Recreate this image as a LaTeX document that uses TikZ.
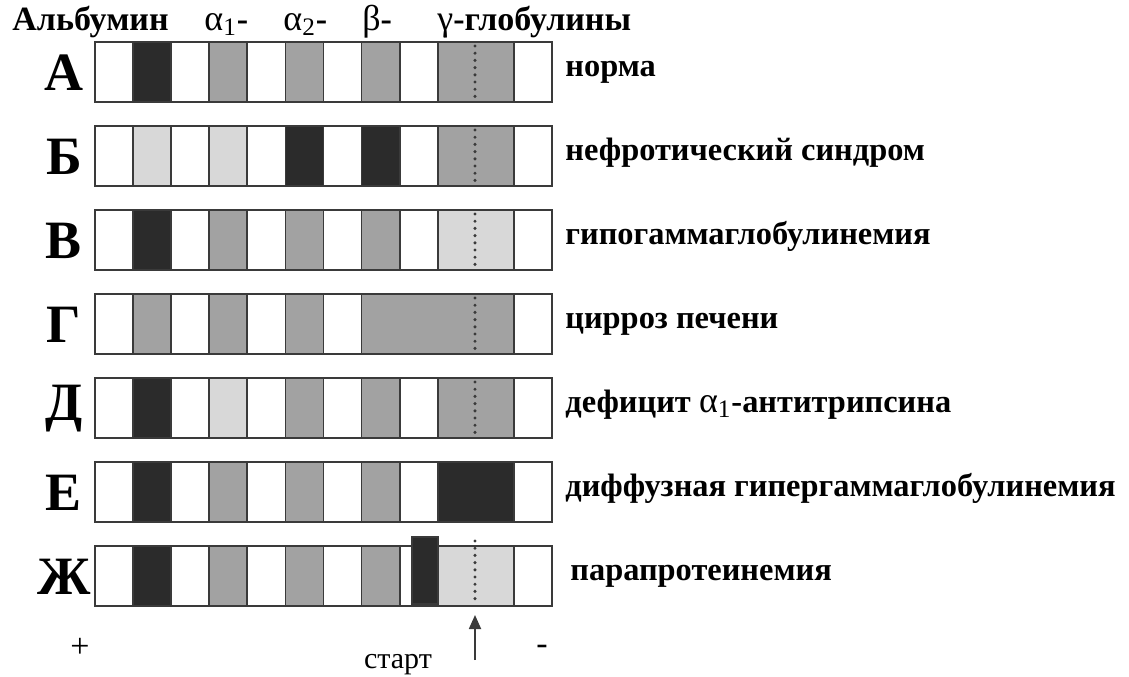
\documentclass[tikz,border=0pt]{standalone}
\usepackage{fontspec}
\setmainfont{Liberation Serif}
\usepackage{tikz}
\usetikzlibrary{arrows.meta}
\definecolor{dk}{HTML}{2B2B2B}
\definecolor{md}{HTML}{A2A2A2}
\definecolor{lt}{HTML}{D8D8D8}
\definecolor{edge}{HTML}{3A3A3A}
\tikzset{
  strip/.style={draw=edge, line width=1.1pt},
  fraction/.style={draw=edge, line width=0.9pt},
  startline/.style={draw=edge, line width=1.7pt, dash pattern=on 0pt off 3.6pt, line cap=round},
  rowletter/.style={font=\fontsize{27}{29}\selectfont\bfseries, inner sep=0pt},
  diagnosis/.style={font=\fontsize{16.2}{18}\selectfont\bfseries, anchor=base west, inner sep=0pt},
  header/.style={font=\fontsize{17}{19}\selectfont\bfseries, anchor=base west, inner sep=0pt},
  pole/.style={font=\fontsize{17}{19}\selectfont, inner sep=0pt},
  runarrow/.style={draw=edge, line width=0.9pt, -{Triangle[length=7pt,width=6pt]}},
}
\newcommand{\greek}[2]{{\normalfont\fontsize{18}{19}\selectfont #1\textsubscript{#2}}}

\begin{document}
\begin{tikzpicture}[x=0.5pt, y=-0.5pt]
  \useasboundingbox (0,0) rectangle (1129,676);

  % fraction names
  \node[header] (alb) at (12,30) {Альбумин};
  \node[header] (a1) at (204,30) {\greek{α}{1}-};
  \node[header] (a2) at (283,30) {\greek{α}{2}-};
  \node[header] (bt) at (362,30) {{\normalfont\fontsize{18}{19}\selectfont β}-};
  \node[header] (gm) at (437,30) {{\normalfont\fontsize{18}{19}\selectfont γ}-глобулины};

  % one strip per row; \gs = first cell of the gamma zone
  \foreach \r/\letter/\diag/\alb/\aone/\atwo/\bet/\gam/\gs in {
      0/А/норма/dk/md/md/md/md/9,
      1/Б/нефротический синдром/lt/lt/dk/dk/md/9,
      2/В/гипогаммаглобулинемия/dk/md/md/md/lt/9,
      3/Г/цирроз печени/md/md/md/md/md/7,
      4/Д/{дефицит \greek{α}{1}-антитрипсина}/dk/lt/md/md/md/9,
      5/Е/диффузная гипергаммаглобулинемия/dk/md/md/md/dk/9,
      6/Ж/{\hspace{2.5pt}парапротеинемия}/dk/md/md/md/lt/9}
  {
    \pgfmathsetmacro{\rowtop}{42+84*\r}
    \fill[white] (95,\rowtop) rectangle (552,\rowtop+60);
    \foreach \c/\f in {1/\alb,3/\aone,5/\atwo,7/\bet}
      \draw[fraction, fill=\f] ({95+38.08*\c},\rowtop) rectangle ++(38.08,60);
    \draw[fraction, fill=\gam] ({95+38.08*\gs},\rowtop) rectangle ({95+38.08*11},\rowtop+60);
    \draw[strip] (95,\rowtop) rectangle (552,\rowtop+60);
    \node[rowletter] (let\r) at (64,\rowtop+31) {\letter};
    \node[diagnosis] (diag\r) at (565,\rowtop+34) {\diag};
  }

  % start line inside the gamma zone
  \foreach \r in {0,1,2,3,4}
    \draw[startline] (475,{42+84*\r+4}) -- (475,{42+84*\r+57});
  \draw[startline] (475,541) -- (475,600);

  % paraprotein band
  \draw[fraction, fill=dk] (412,537) rectangle (438,604);

  % poles and start
  \node[pole] (plus) at (80,648) {+};
  \node[pole] (minus) at (542,650) {-};
  \node[pole, font=\fontsize{15}{17}\selectfont, anchor=base] (start) at (398,668) {старт};
  \coordinate (runbase) at (475,660);
  \coordinate (runtip) at (475,615);
  \draw[runarrow] (runbase) -- (runtip);

\end{tikzpicture}
\end{document}
